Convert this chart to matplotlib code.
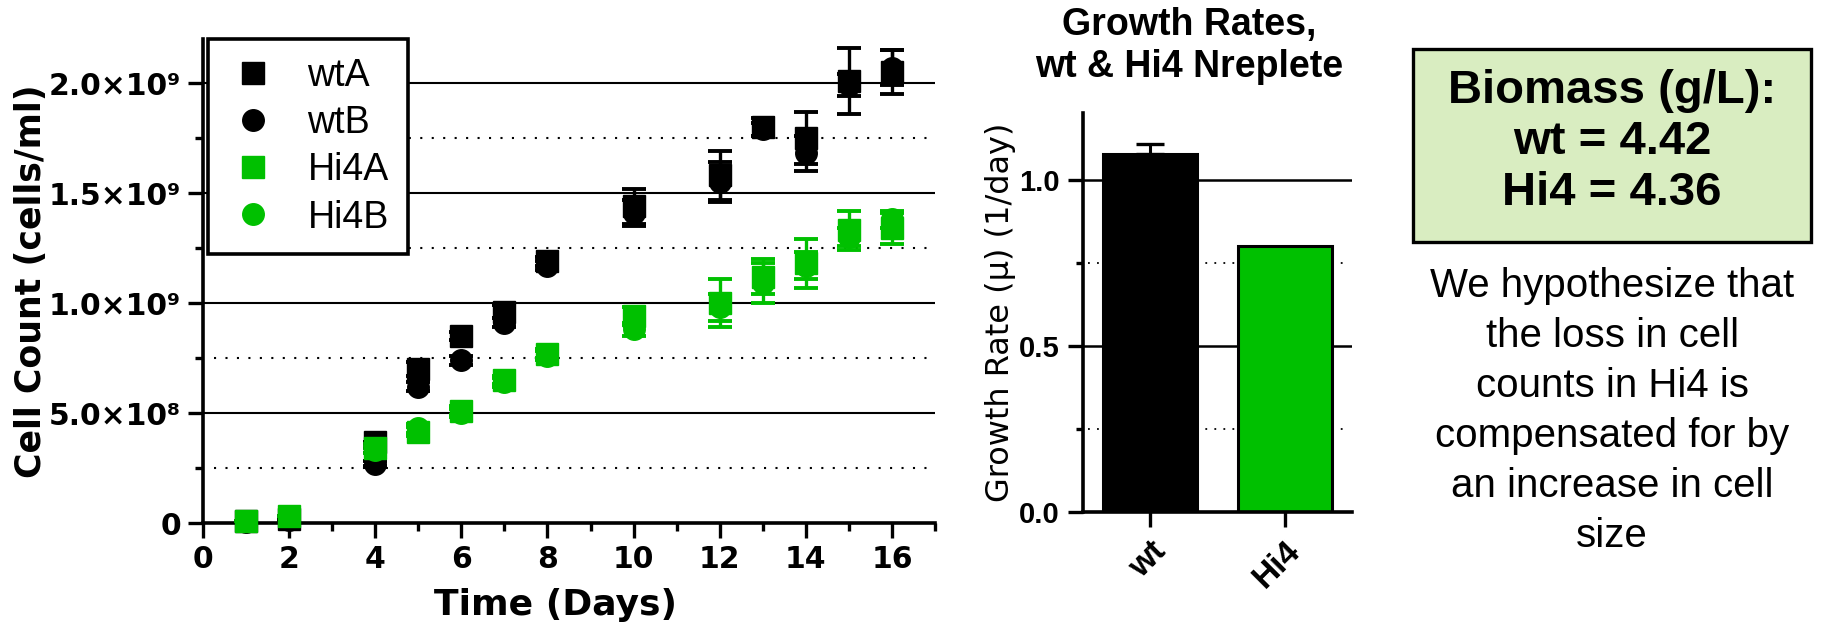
import matplotlib
matplotlib.use("Agg")
import matplotlib.pyplot as plt
import numpy as np

plt.rcParams['font.family'] = ['Liberation Sans', 'DejaVu Sans']
WIDE = ['DejaVu Sans']

# growth curves, cell counts in units of 1e9 cells/ml
days = [1, 2, 4, 5, 6, 7, 8, 10, 12, 13, 14, 15, 16]
wtA = [0.01, 0.02, 0.37, 0.70, 0.85, 0.96, 1.19, 1.44, 1.58, 1.80, 1.75, 2.01, 2.05]
wtA_err = [0, 0, 0, 0.03, 0.02, 0.03, 0.02, 0.08, 0.11, 0.04, 0.12, 0.15, 0.10]
wtB = [0.005, 0.015, 0.27, 0.62, 0.74, 0.91, 1.17, 1.41, 1.55, 1.79, 1.68, 1.99, 2.07]
wtB_err = [0, 0, 0.01, 0.02, 0.02, 0.02, 0.02, 0.06, 0.09, 0.03, 0.08, 0.05, 0.08]
hi4A = [0.01, 0.03, 0.34, 0.415, 0.51, 0.65, 0.77, 0.94, 1.00, 1.12, 1.18, 1.33, 1.34]
hi4A_err = [0, 0, 0.02, 0.02, 0.02, 0.02, 0.02, 0.04, 0.11, 0.08, 0.11, 0.09, 0.07]
hi4B = [0.01, 0.03, 0.33, 0.43, 0.50, 0.64, 0.76, 0.88, 0.98, 1.09, 1.17, 1.30, 1.38]
hi4B_err = [0, 0, 0.01, 0.02, 0.02, 0.02, 0.02, 0.03, 0.06, 0.09, 0.06, 0.04, 0.04]

ytick_vals = [0, 0.5e9, 1.0e9, 1.5e9, 2.0e9]
ytick_labels = ["0", "5.0×10⁸", "1.0×10⁹", "1.5×10⁹", "2.0×10⁹"]
xtick_vals = [0, 2, 4, 6, 8, 10, 12, 14, 16]

# growth rates
strains = ["wt", "Hi4"]
rates = [1.078, 0.80]
rate_err = [0.03, 0]
title_lines = ["Growth Rates,", "wt & Hi4 Nreplete"]

box_lines = ["Biomass (g/L):", "wt = 4.42", "Hi4 = 4.36"]
note_lines = ["We hypothesize that", "the loss in cell", "counts in Hi4 is",
              "compensated for by", "an increase in cell", "size"]

GREEN = "#00c000"

fig = plt.figure(figsize=(18.32, 6.39), dpi=100)

# ---- left: cell counts
ax = fig.add_axes([0.1108, 0.1815, 0.3996, 0.7574])
ax.set_xlim(0, 17)
ax.set_ylim(0, 2.2e9)

for y in [0.5e9, 1.0e9, 1.5e9, 2.0e9]:
    ax.axhline(y, color="black", lw=1.5, zorder=1)
for y in [0.25e9, 0.75e9, 1.25e9, 1.75e9]:
    ax.axhline(y, xmin=0.015, color="black", lw=1.5, ls=(0, (1, 4.5)), zorder=1)

series = [
    ("wtA", wtA, wtA_err, "s", "black"),
    ("wtB", wtB, wtB_err, "o", "black"),
    ("Hi4A", hi4A, hi4A_err, "s", GREEN),
    ("Hi4B", hi4B, hi4B_err, "o", GREEN),
]
for name, vals, err, mk, col in series:
    v = np.array(vals) * 1e9
    e = np.array(err) * 1e9
    ax.errorbar(days, v, yerr=e, fmt=mk, color=col, ms=15.5, mec=col,
                elinewidth=2.4, capsize=8.5, capthick=2.8, label=name, zorder=3,
                clip_on=False)

ax.spines["top"].set_visible(False)
ax.spines["right"].set_visible(False)
for s in ["left", "bottom"]:
    ax.spines[s].set_linewidth(2.6)
ax.set_yticks(ytick_vals)
ax.set_yticklabels(ytick_labels)
ax.set_yticks([0.25e9, 0.75e9, 1.25e9, 1.75e9], minor=True)
ax.set_xticks(xtick_vals)
ax.set_xticks([1, 3, 5, 7, 9, 11, 13, 15, 17], minor=True)
ax.tick_params(which="major", length=11, width=2.4, labelsize=21.5, pad=5)
ax.tick_params(which="minor", length=6, width=2.4)
for lab in ax.get_xticklabels() + ax.get_yticklabels():
    lab.set_fontweight("bold")
    lab.set_family(WIDE)
ax.set_xlabel("Time (Days)", fontsize=26, fontweight="bold", family=WIDE)
ax.xaxis.set_label_coords(0.482, -0.135)
ax.set_ylabel("Cell Count (cells/ml)", fontsize=25, fontweight="bold", family=WIDE)
ax.yaxis.set_label_coords(-0.212, 0.5)

handles, labels = ax.get_legend_handles_labels()
handles = [h[0] for h in handles]
leg = ax.legend(handles, labels, loc="upper left", bbox_to_anchor=(0.007, 1.0),
                borderaxespad=0, fontsize=27, frameon=True, fancybox=False,
                edgecolor="black", framealpha=1, handletextpad=0.75,
                labelspacing=0.3, borderpad=0.5, handlelength=1.4)
leg.get_frame().set_linewidth(2.6)
leg.set_zorder(5)

# ---- middle: growth rates
bx = fig.add_axes([0.5912, 0.1987, 0.1468, 0.6244])
bx.set_xlim(-0.5, 1.5)
bx.set_ylim(0, 1.2)
for y in [0.5, 1.0]:
    bx.axhline(y, color="black", lw=1.8, zorder=1)
for y in [0.25, 0.75]:
    bx.axhline(y, xmin=0.02, xmax=0.98, color="black", lw=1.3, ls=(0, (1, 4)), zorder=1)
x = np.arange(len(strains))
bx.bar(x, rates, width=0.7, color=["black", GREEN], edgecolor="black",
       linewidth=2.2, zorder=2)
bx.errorbar(x[:1], rates[:1], yerr=[[0], rate_err[:1]], fmt="none", ecolor="black",
            elinewidth=2.2, capsize=10, capthick=2.4, zorder=3)
bx.spines["top"].set_visible(False)
bx.spines["right"].set_visible(False)
for s in ["left", "bottom"]:
    bx.spines[s].set_linewidth(2.6)
bx.set_yticks([0.0, 0.5, 1.0])
bx.set_yticklabels(["0.0", "0.5", "1.0"])
bx.set_yticks([0.25, 0.75], minor=True)
bx.set_xticks(x)
bx.set_xticklabels(strains, rotation=45, ha="right", rotation_mode="anchor")
bx.tick_params(which="major", length=11, width=2.4, labelsize=21, pad=6)
bx.tick_params(which="minor", length=5, width=2.4)
bx.tick_params(axis="x", labelsize=24)
for lab in bx.get_xticklabels() + bx.get_yticklabels():
    lab.set_fontweight("bold")
bx.set_ylabel("Growth Rate (μ) (1/day)", fontsize=23, family=WIDE)
bx.yaxis.set_label_coords(-0.25, 0.5)
for i, line in enumerate(title_lines):
    fig.text(1189 / 1832, 1 - (35 + 42 * i) / 639, line, ha="center", va="baseline",
             fontsize=27, fontweight="bold")

# ---- right: biomass box and note
box = plt.Rectangle((1413 / 1832, 1 - 242 / 639), 398 / 1832, 193 / 639,
                    transform=fig.transFigure, facecolor="#d9edc1",
                    edgecolor="black", linewidth=2.4)
fig.add_artist(box)
for i, line in enumerate(box_lines):
    fig.text(0.880, 1 - (91 + 51 * i) / 639, line, ha="center", va="center",
             fontsize=34, fontweight="bold")
for i, line in enumerate(note_lines):
    fig.text(0.880, 1 - (286 + 50 * i) / 639, line, ha="center", va="center",
             fontsize=29)

fig.savefig("out.png", dpi=100)
